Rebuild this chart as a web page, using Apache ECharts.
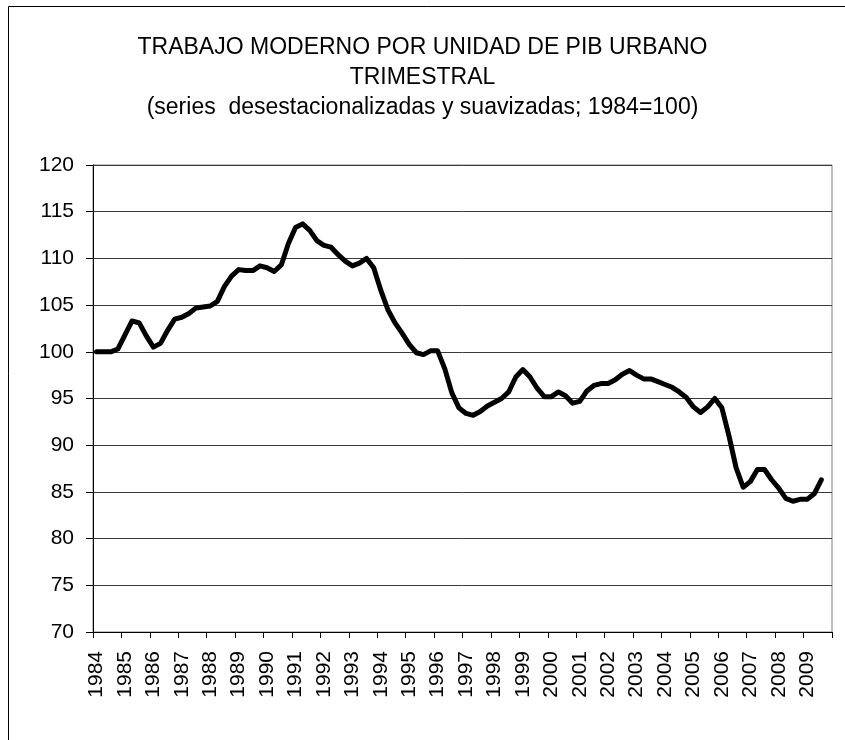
<!DOCTYPE html>
<html>
<head>
<meta charset="utf-8">
<script src="https://cdn.jsdelivr.net/npm/echarts@6/dist/echarts.min.js"></script>
<style>
html,body{margin:0;padding:0;background:#fff;}
#chart{width:845px;height:740px;}
</style>
</head>
<body>
<div id="chart"></div>
<script>
// Years shown on the category axis (quarterly data, 4 quarters per year)
const years = [1984,1985,1986,1987,1988,1989,1990,1991,1992,1993,1994,1995,1996,1997,1998,1999,2000,2001,2002,2003,2004,2005,2006,2007,2008,2009];
const quarterNames = ['I','II','III','IV'];
// Quarterly index values (1984=100); last quarter has no data
const values = [
  100.0,100.0,100.0,100.3,
  101.8,103.3,103.1,101.7,
  100.5,100.9,102.3,103.5,
  103.7,104.1,104.7,104.8,
  104.9,105.4,107.0,108.1,
  108.8,108.7,108.7,109.2,
  109.0,108.6,109.3,111.6,
  113.3,113.7,113.0,111.9,
  111.4,111.2,110.4,109.7,
  109.2,109.5,110.0,109.0,
  106.6,104.5,103.1,102.0,
  100.8,99.9,99.7,100.1,
  100.1,98.2,95.6,94.0,
  93.4,93.2,93.6,94.2,
  94.6,95.0,95.7,97.3,
  98.1,97.3,96.1,95.2,
  95.2,95.7,95.3,94.5,
  94.7,95.8,96.4,96.6,
  96.6,97.0,97.6,98.0,
  97.5,97.1,97.1,96.8,
  96.5,96.2,95.7,95.1,
  94.1,93.5,94.1,95.0,
  94.0,91.0,87.6,85.5,
  86.1,87.4,87.4,86.3,
  85.4,84.3,84.0,84.2,
  84.2,84.8,86.3,null
];
const categories = [];
years.forEach(y => quarterNames.forEach(q => categories.push(y + '-' + q)));

const chart = echarts.init(document.getElementById('chart'));
const font = "'Liberation Sans', Arial, sans-serif";
chart.setOption({
  animation: false,
  backgroundColor: '#fff',
  graphic: [{
    type: 'rect',
    shape: {x: 8.5, y: 6.5, width: 900, height: 800},
    style: {fill: 'none', stroke: '#000', lineWidth: 1},
    silent: true
  }],
  title: {
    text: 'TRABAJO MODERNO POR UNIDAD DE PIB URBANO\nTRIMESTRAL\n(series  desestacionalizadas y suavizadas; 1984=100)',
    left: 'center',
    top: 28,
    textStyle: {fontFamily: font, fontSize: 23, fontWeight: 'normal', color: '#000', lineHeight: 30}
  },
  grid: {left: 93, right: 13, top: 165, bottom: 108, show: true, borderColor: '#808080', borderWidth: 1},
  xAxis: {
    type: 'category',
    data: categories,
    boundaryGap: true,
    axisLine: {show: true, lineStyle: {color: '#000', width: 1}},
    axisTick: {show: true, interval: 3, length: 6, lineStyle: {color: '#000'}},
    axisLabel: {
      interval: 3, rotate: 90, margin: 19,
      fontFamily: font, fontSize: 21, color: '#000',
      formatter: v => v.slice(0, 4)
    },
    splitLine: {show: false}
  },
  yAxis: {
    type: 'value',
    min: 70, max: 120, interval: 5,
    axisLine: {show: true, lineStyle: {color: '#000', width: 1}},
    axisTick: {show: true, length: 7, lineStyle: {color: '#000'}},
    axisLabel: {margin: 19, fontFamily: font, fontSize: 21, color: '#000'},
    splitLine: {show: true, lineStyle: {color: '#3a3a3a', width: 1}}
  },
  series: [{
    type: 'line',
    data: values,
    symbol: 'none',
    smooth: false,
    connectNulls: false,
    lineStyle: {color: '#000', width: 5, cap: 'round', join: 'round'}
  }]
});
</script>
</body>
</html>
